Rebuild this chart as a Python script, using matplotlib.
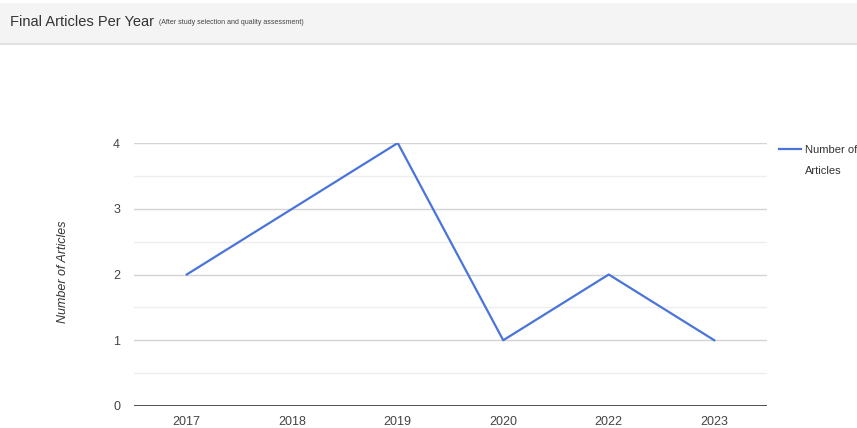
import matplotlib.pyplot as plt
from matplotlib.patches import Rectangle
from matplotlib.lines import Line2D

years = ['2017', '2018', '2019', '2020', '2022', '2023']
articles = [2, 3, 4, 1, 2, 1]

plt.rcParams['font.family'] = ['Liberation Sans', 'DejaVu Sans']

W, H = 857, 428
fig = plt.figure(figsize=(W / 100, H / 100), dpi=100)

# header band
fig.patches.append(Rectangle((0, 1 - 43 / H), 1, 40 / H, transform=fig.transFigure,
                             facecolor='#f4f4f4', edgecolor='none', zorder=0))
fig.add_artist(Line2D([0, 1], [1 - 43.5 / H] * 2, transform=fig.transFigure,
                      color='#dcdcdc', lw=1.2))
title = fig.text(10 / W, 1 - 22 / H, 'Final Articles Per Year', fontsize=10.5, color='#333333',
                 va='center', ha='left')

ax = fig.add_axes([134 / W, 1 - 406 / H, (767 - 134) / W, (406 - 143) / H])
x = list(range(len(years)))
ax.plot(x, articles, color='#4a74d9', lw=1.6, label='Number of', zorder=3)

ax.set_xlim(-0.5, len(years) - 0.5)
ax.set_ylim(0, 4)
ax.set_xticks(x)
ax.set_xticklabels(years)
ax.set_yticks([0, 1, 2, 3, 4])
ax.set_yticks([0.5, 1.5, 2.5, 3.5], minor=True)
ax.grid(axis='y', which='major', color='#d4d4d4', lw=1)
ax.grid(axis='y', which='minor', color='#eeeeee', lw=1)
ax.axhline(0, color='#333333', lw=1.2, zorder=4)
for s in ax.spines.values():
    s.set_visible(False)
ax.tick_params(axis='both', which='both', length=0, labelsize=9, labelcolor='#444444')
ax.tick_params(axis='x', pad=7.5)
ax.tick_params(axis='y', pad=10)

fig.text(63 / W, 1 - 272 / H, 'Number of Articles', rotation=90, style='italic',
         fontsize=9, color='#333333', va='center', ha='center')

# legend: first line next to the handle, second line wrapped below
leg = ax.legend(loc='upper left', bbox_to_anchor=(779 / W, 1 - 145 / H), bbox_transform=fig.transFigure,
                frameon=False, fontsize=8, handlelength=2.0, handletextpad=0.35,
                labelcolor='#333333', borderaxespad=0, borderpad=0)

fig.canvas.draw()
bb = title.get_window_extent()
fig.text((bb.x1 + 5) / W, 1 - 23 / H, '(After study selection and quality assessment)', fontsize=5,
         color='#444444', va='center', ha='left')
tb = leg.get_texts()[0].get_window_extent()
fig.text(tb.x0 / W, 1 - 171 / H, 'Articles', fontsize=8, color='#333333', va='center', ha='left')

fig.savefig('out.png', dpi=100)
